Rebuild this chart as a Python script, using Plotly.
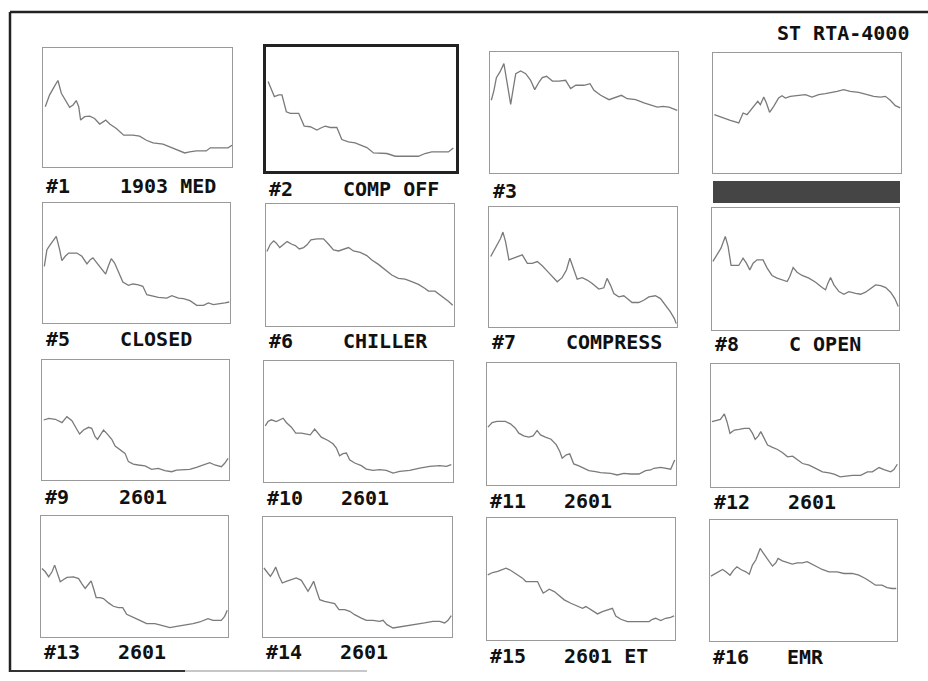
import plotly.graph_objects as go

# ---------------- data (band position in % of span, relative level 0-100) ----------------
title_text = "ST RTA-4000"
panel_ids = ["#1", "#2", "#3", "", "#5", "#6", "#7", "#8",
             "#9", "#10", "#11", "#12", "#13", "#14", "#15", "#16"]
panel_names = ["1903 MED", "COMP OFF", "", "", "CLOSED", "CHILLER", "COMPRESS", "C OPEN",
               "2601", "2601", "2601", "2601", "2601", "2601", "2601 ET", "EMR"]

band_1 = [1.2, 3.5, 6.2, 7.9, 9.7, 12.3, 14.1, 15.9, 17.6, 18.9, 19.9, 22.0, 24.7, 27.3, 30.0, 33.2, 35.3,
          38.8, 42.7, 47.6, 51.1, 54.7, 58.2, 63.5, 68.8, 72.3, 75.0, 77.6, 81.1, 86.4, 88.5, 93.5, 97.9, 100]
level_1 = [50.7, 60.6, 68.2, 72.7, 62.0, 54.9, 50.1, 52.1, 55.8, 50.7, 39.4, 42.3, 42.8, 40.8, 36.1, 39.4, 36.1,
           32.4, 26.8, 26.8, 25.9, 22.5, 20.3, 19.2, 15.5, 13.5, 11.8, 12.7, 13.5, 13.5, 16.1, 16.1, 16.1, 18.3]

band_2 = [1.1, 2.6, 4.4, 6.7, 8.4, 10.7, 12.8, 17.2, 20.1, 23.3, 26.8, 29.4, 31.2, 33.8, 37.3, 39.9, 43.4,
          46.9, 50.4, 53.1, 56.6, 60.1, 63.6, 68.0, 70.6, 75.8, 80.2, 83.7, 87.2, 91.6, 96.0, 98.6]
level_2 = [72.2, 65.9, 60.0, 61.4, 61.4, 47.8, 46.5, 46.5, 36.2, 35.7, 33.0, 35.1, 36.2, 35.1, 35.1, 25.4, 23.5,
           22.7, 20.8, 18.9, 14.6, 14.6, 14.1, 11.9, 11.9, 11.4, 11.9, 14.1, 15.4, 15.4, 15.4, 18.6]

band_3 = [0.7, 2.1, 3.4, 5.3, 7.4, 8.7, 9.6, 11.0, 12.2, 13.7, 16.3, 19.0, 21.6, 23.8, 26.1, 27.8, 30.1,
          33.2, 36.7, 40.2, 42.9, 45.6, 50.0, 53.2, 55.3, 58.9, 63.3, 66.8, 69.9, 73.0, 77.5, 81.9, 85.5,
          89.0, 92.0, 95.2, 99.6]
level_3 = [60.1, 68.3, 78.8, 83.5, 90.4, 79.3, 68.3, 56.7, 68.3, 82.1, 84.3, 82.1, 76.6, 68.9, 75.2, 78.8, 79.9,
           76.0, 76.0, 76.6, 69.7, 72.5, 72.5, 73.8, 68.3, 64.2, 60.6, 62.3, 64.2, 61.4, 60.6, 57.9, 55.9,
           54.5, 55.1, 54.5, 51.8]

band_4 = [0.7, 3.9, 9.2, 13.7, 16.0, 18.1, 20.2, 22.2, 23.8, 25.2, 27.0, 28.4, 30.1, 32.3, 34.9, 36.7, 38.5,
          41.1, 44.7, 49.1, 52.7, 56.2, 59.8, 62.4, 66.0, 69.5, 73.0, 77.5, 81.9, 85.5, 89.0, 91.7, 94.3,
          97.0, 99.6]
level_4 = [48.6, 46.7, 43.9, 41.7, 50.0, 48.6, 52.8, 56.9, 59.7, 56.9, 63.3, 58.3, 50.6, 55.6, 62.5, 64.4, 62.5,
           63.9, 64.4, 65.3, 63.3, 65.3, 66.1, 67.2, 68.1, 69.4, 68.1, 67.2, 65.3, 63.9, 63.3, 63.9, 60.6,
           56.1, 54.2]

band_5 = [0.7, 2.1, 3.9, 5.7, 7.1, 8.9, 10.1, 11.9, 13.7, 18.1, 20.8, 23.5, 25.3, 26.7, 28.8, 31.1, 33.5,
          35.1, 36.5, 38.3, 40.4, 42.7, 45.7, 48.0, 50.5, 53.4, 55.5, 58.2, 61.7, 66.2, 68.9, 72.4, 75.1,
          78.6, 82.2, 85.8, 88.4, 91.1, 94.7, 97.3, 99.6]
level_5 = [47.2, 61.1, 65.3, 69.4, 72.2, 61.1, 51.9, 55.6, 58.3, 58.3, 55.6, 49.2, 52.8, 54.2, 50.0, 45.3, 40.8,
           48.1, 53.6, 50.0, 42.5, 34.2, 31.4, 32.5, 31.9, 30.6, 23.6, 22.8, 21.4, 20.8, 22.8, 20.8, 20.3,
           18.6, 14.7, 14.7, 16.7, 15.3, 15.8, 16.7, 17.5]

band_6 = [0.5, 2.3, 4.1, 5.5, 7.3, 9.4, 11.2, 13.8, 15.6, 17.7, 20.0, 21.8, 23.9, 27.1, 30.6, 33.3, 35.9,
          38.6, 41.2, 43.9, 46.5, 50.1, 53.6, 56.3, 59.8, 63.4, 66.9, 70.4, 74.0, 77.5, 81.1, 84.6, 86.4,
          89.9, 93.5, 97.0, 99.3]
level_6 = [61.0, 67.0, 69.8, 67.9, 64.3, 67.0, 69.2, 67.0, 65.9, 63.2, 64.3, 66.5, 70.6, 71.4, 71.4, 67.0, 62.4,
           61.5, 63.2, 64.3, 61.5, 60.4, 57.7, 54.1, 50.5, 45.9, 41.8, 39.0, 38.5, 36.3, 34.1, 30.8, 28.6,
           28.6, 24.7, 20.3, 17.0]

band_7 = [0.9, 2.7, 4.4, 6.2, 7.4, 8.8, 10.6, 13.3, 15.0, 17.7, 20.4, 23.0, 25.7, 28.3, 31.0, 33.6, 36.3,
          38.9, 41.2, 43.0, 44.8, 46.9, 49.6, 52.2, 54.9, 58.4, 61.1, 62.8, 64.6, 66.4, 69.0, 71.7, 73.5,
          76.1, 79.6, 82.3, 85.0, 88.5, 91.2, 93.8, 96.5, 98.6, 99.6]
level_7 = [58.7, 64.2, 69.0, 74.0, 79.1, 71.2, 55.9, 57.3, 58.7, 60.1, 53.1, 53.1, 54.5, 51.1, 46.6, 41.9, 37.7,
           41.1, 47.5, 57.3, 48.9, 39.9, 41.1, 39.1, 36.3, 31.6, 32.7, 40.5, 34.9, 27.9, 25.1, 26.0, 23.7,
           20.4, 20.4, 22.3, 25.1, 26.0, 23.7, 18.2, 12.6, 7.0, 2.8]

band_8 = [0.5, 2.7, 4.8, 7.1, 8.6, 10.2, 12.5, 14.3, 16.6, 18.4, 20.2, 22.0, 24.1, 27.3, 29.5, 32.1, 34.8,
          37.5, 40.2, 41.6, 43.4, 45.5, 48.2, 51.8, 55.4, 58.9, 60.7, 62.0, 63.4, 65.2, 67.9, 70.5, 73.2,
          76.8, 79.5, 82.1, 84.8, 87.5, 90.2, 92.9, 95.5, 97.7, 99.6]
level_8 = [56.2, 61.6, 67.1, 76.7, 68.5, 52.9, 52.9, 52.9, 58.9, 54.8, 49.3, 54.8, 57.5, 57.5, 50.7, 44.7, 42.5,
           41.1, 39.7, 43.8, 51.2, 47.4, 44.7, 42.5, 39.2, 34.8, 32.9, 38.4, 43.0, 37.0, 31.5, 29.3, 31.5,
           30.1, 29.3, 31.0, 34.2, 37.0, 36.4, 34.8, 31.0, 26.0, 19.2]

band_9 = [0.9, 3.6, 7.1, 10.7, 13.3, 16.0, 18.3, 20.1, 22.2, 24.9, 26.6, 28.4, 29.7, 31.1, 32.9, 34.6, 37.3,
          39.1, 41.7, 44.4, 46.2, 48.8, 51.5, 55.1, 58.6, 62.2, 65.7, 69.3, 71.9, 75.5, 79.0, 82.6, 86.1,
          89.7, 92.4, 95.9, 97.7, 99.5]
level_9 = [50.0, 51.4, 50.6, 47.8, 52.8, 49.4, 43.1, 38.3, 41.7, 43.9, 43.1, 36.1, 33.9, 37.5, 41.7, 38.9, 33.9,
           28.3, 25.6, 22.2, 15.3, 13.3, 12.5, 11.7, 8.9, 9.7, 7.8, 6.9, 8.3, 8.9, 8.9, 10.6, 12.5,
           14.4, 12.5, 11.1, 13.9, 18.1]

band_10 = [0.7, 2.1, 3.9, 6.5, 10.1, 11.8, 14.5, 16.8, 19.8, 22.4, 24.5, 26.8, 28.6, 30.3, 33.9, 36.5, 38.3,
           40.0, 41.8, 43.6, 45.3, 48.0, 51.5, 54.1, 57.7, 61.2, 64.7, 68.3, 71.8, 77.1, 82.4, 87.7, 92.9,
           96.5, 99.1]
level_10 = [46.4, 50.0, 51.4, 50.0, 52.7, 49.2, 45.3, 40.4, 40.4, 39.8, 39.0, 43.7, 40.4, 37.1, 34.3, 31.6, 28.0,
            21.7, 23.4, 23.9, 18.4, 15.7, 13.5, 10.7, 9.6, 10.2, 9.6, 7.4, 8.8, 9.6, 11.5, 12.9, 13.5,
            12.9, 14.3]

band_11 = [0.5, 2.7, 5.3, 9.7, 12.4, 15.0, 16.8, 19.4, 22.1, 24.4, 26.5, 28.3, 30.9, 33.9, 36.7, 38.5, 39.8,
           42.0, 43.8, 45.9, 48.6, 51.2, 53.9, 57.4, 60.1, 65.4, 68.9, 72.4, 76.0, 80.4, 83.9, 86.6, 88.3,
           91.9, 95.4, 97.2, 99.3]
level_11 = [47.4, 51.2, 52.1, 52.1, 50.1, 46.6, 42.5, 40.3, 39.2, 40.3, 44.7, 41.1, 39.2, 37.5, 32.9, 27.4, 21.9,
            24.7, 25.5, 17.3, 15.6, 13.7, 11.8, 11.0, 10.1, 9.6, 8.2, 9.6, 9.0, 9.0, 11.8, 12.3, 13.7,
            14.5, 13.7, 12.9, 20.5]

band_12 = [0.5, 2.7, 5.0, 7.1, 8.5, 10.1, 12.4, 15.0, 17.7, 20.4, 22.1, 23.5, 25.1, 26.5, 28.3, 30.1, 32.7,
           35.4, 38.1, 40.7, 43.4, 46.0, 48.7, 52.2, 55.8, 59.3, 62.8, 65.5, 68.7, 71.7, 75.2, 79.6, 83.2,
           85.8, 89.4, 92.0, 95.6, 97.3, 99.1]
level_12 = [53.1, 54.0, 55.0, 59.4, 53.1, 43.6, 46.3, 46.9, 47.7, 47.7, 43.6, 38.7, 41.4, 45.0, 39.5, 34.1, 32.2,
            30.5, 27.8, 24.5, 25.1, 21.8, 19.1, 17.7, 15.0, 12.3, 11.4, 10.4, 8.2, 8.7, 9.5, 9.5, 12.3,
            12.3, 15.8, 14.2, 12.3, 14.2, 18.5]

band_13 = [0.5, 2.3, 4.1, 5.9, 7.3, 8.9, 10.3, 12.1, 13.9, 17.4, 20.1, 21.8, 23.6, 25.4, 26.8, 28.1, 29.5,
           31.6, 33.4, 36.1, 38.7, 41.4, 43.7, 45.8, 48.5, 52.0, 56.5, 60.9, 64.5, 68.9, 72.5, 76.9, 81.3,
           84.9, 89.3, 92.0, 96.4, 98.2, 99.6]
level_13 = [56.6, 53.9, 49.7, 53.9, 59.4, 51.1, 45.6, 47.5, 49.2, 49.7, 48.3, 44.2, 40.1, 43.6, 46.4, 40.1, 32.6,
            32.6, 31.8, 28.2, 25.4, 24.3, 24.3, 18.8, 16.6, 14.4, 11.0, 11.0, 9.7, 7.7, 8.8, 9.7, 11.0,
            12.4, 15.2, 13.8, 13.8, 17.1, 22.1]

band_14 = [0.5, 2.3, 3.9, 5.6, 6.7, 8.5, 10.2, 12.3, 15.0, 17.6, 20.3, 22.0, 23.8, 25.6, 26.8, 28.2, 30.0,
           32.6, 35.3, 37.9, 40.2, 43.2, 45.9, 48.5, 52.0, 54.7, 58.2, 61.7, 63.5, 65.6, 68.8, 72.3, 76.7,
           81.1, 85.5, 89.9, 93.5, 96.1, 97.9, 99.6]
level_14 = [57.5, 53.9, 50.6, 54.7, 58.3, 50.6, 45.0, 46.4, 47.8, 49.2, 47.2, 42.8, 38.1, 42.8, 46.4, 39.4, 31.1,
            29.7, 28.9, 27.8, 22.8, 22.8, 21.4, 18.6, 15.8, 13.9, 13.9, 13.1, 13.9, 10.3, 7.5, 8.3, 9.4,
            10.3, 11.7, 13.1, 13.1, 11.7, 13.9, 17.8]

band_15 = [0.4, 3.0, 5.7, 10.1, 12.7, 16.3, 18.9, 20.7, 23.4, 26.9, 28.3, 29.9, 31.3, 33.1, 35.8, 38.4, 41.1,
           44.6, 48.1, 50.8, 52.6, 54.9, 57.0, 58.8, 61.4, 64.1, 66.7, 68.5, 71.2, 74.7, 78.2, 81.8, 86.2,
           88.0, 89.7, 92.4, 95.0, 97.7, 99.5]
level_15 = [53.4, 55.3, 56.2, 58.9, 57.0, 53.4, 50.7, 47.9, 47.9, 47.9, 43.3, 38.4, 39.7, 41.6, 39.7, 36.2, 32.9,
            30.1, 27.9, 26.0, 27.4, 25.2, 22.5, 21.4, 23.3, 24.7, 26.0, 19.7, 17.0, 15.1, 15.1, 15.1, 15.1,
            17.0, 17.8, 15.9, 17.8, 18.6, 19.7]

band_16 = [0.5, 3.2, 6.7, 8.5, 10.7, 12.6, 14.4, 16.5, 19.2, 21.0, 22.7, 24.5, 26.8, 28.6, 30.7, 33.4, 35.2,
           36.4, 38.7, 41.4, 44.0, 46.7, 49.4, 52.0, 54.7, 57.4, 60.0, 63.6, 68.0, 71.6, 76.0, 79.6, 83.1,
           85.8, 88.5, 92.0, 94.7, 97.3, 99.6]
level_16 = [53.6, 55.8, 59.1, 57.2, 54.4, 58.6, 61.3, 59.1, 57.2, 55.2, 62.7, 66.9, 76.5, 72.4, 67.4, 61.9, 64.6,
            68.2, 66.3, 64.6, 63.5, 64.6, 64.6, 65.5, 63.5, 61.3, 59.1, 57.2, 57.2, 55.8, 55.8, 54.4, 51.7,
            48.9, 46.1, 46.1, 44.2, 43.4, 43.4]

bands = [band_1, band_2, band_3, band_4, band_5, band_6, band_7, band_8,
         band_9, band_10, band_11, band_12, band_13, band_14, band_15, band_16]
levels = [level_1, level_2, level_3, level_4, level_5, level_6, level_7, level_8,
          level_9, level_10, level_11, level_12, level_13, level_14, level_15, level_16]

# ---------------- layout geometry (pixel boxes: left, top, right, bottom) ----------------
W, H = 928, 681
boxes = [
    (43, 48, 232, 167), (266, 47, 456, 171), (490, 52, 678, 173), (713, 53, 901, 173),
    (43, 203, 230, 323), (266, 204, 454, 326), (489, 207, 677, 327), (712, 208, 899, 330),
    (42, 360, 229, 480), (264, 361, 453, 482), (487, 363, 676, 485), (711, 364, 899, 487),
    (41, 516, 228, 637), (263, 517, 452, 637), (487, 518, 675, 640), (710, 520, 897, 641),
]
label_offsets = [19, 18, 18, 18, 16, 15, 15, 14, 17, 16, 16, 15, 15, 15, 16, 16]

FONT = "DejaVu Sans Mono"
LINE_COLOR = "#7a7a7a"

fig = go.Figure()
layout_axes = {}
annotations = []
for i in range(16):
    n = i + 1
    xa = "xaxis" if n == 1 else f"xaxis{n}"
    ya = "yaxis" if n == 1 else f"yaxis{n}"
    xr = "x" if n == 1 else f"x{n}"
    yr = "y" if n == 1 else f"y{n}"
    l, t, r, b = boxes[i]
    selected = (n == 2)
    frame_col = "#222222" if selected else "#9a9a9a"
    frame_w = 2.5 if selected else 1
    layout_axes[xa] = dict(domain=[l / W, r / W], range=[0, 100], showgrid=False, zeroline=False,
                           showticklabels=False, ticks="", showline=True, mirror=True,
                           linecolor=frame_col, linewidth=frame_w, anchor=yr, fixedrange=True)
    layout_axes[ya] = dict(domain=[1 - b / H, 1 - t / H], range=[0, 100], showgrid=False, zeroline=False,
                           showticklabels=False, ticks="", showline=True, mirror=True,
                           linecolor=frame_col, linewidth=frame_w, anchor=xr, fixedrange=True)
    fig.add_trace(go.Scatter(x=bands[i], y=levels[i], mode="lines", xaxis=xr, yaxis=yr,
                             line=dict(color=LINE_COLOR, width=1.3), showlegend=False,
                             hoverinfo="skip"))
    ly = b + label_offsets[i]
    if panel_ids[i]:
        annotations.append(dict(text=f"<b>{panel_ids[i]}</b>", x=(l + 1) / W, y=1 - ly / H,
                                xref="paper", yref="paper", xanchor="left", yanchor="middle",
                                showarrow=False, font=dict(family=FONT, size=20, color="#111111")))
    if panel_names[i]:
        annotations.append(dict(text=f"<b>{panel_names[i]}</b>", x=(l + 75) / W, y=1 - ly / H,
                                xref="paper", yref="paper", xanchor="left", yanchor="middle",
                                showarrow=False, font=dict(family=FONT, size=20, color="#111111")))

annotations.append(dict(text=f"<b>{title_text}</b>", x=911 / W, y=1 - 33 / H, xref="paper", yref="paper",
                        xanchor="right", yanchor="middle", showarrow=False,
                        font=dict(family=FONT, size=20, color="#111111")))

shapes = [
    # outer frame pieces
    dict(type="line", xref="paper", yref="paper", x0=10 / W, x1=1, y0=1 - 12 / H, y1=1 - 12 / H,
         line=dict(color="#222222", width=2.5)),
    dict(type="line", xref="paper", yref="paper", x0=10 / W, x1=10 / W, y0=1 - 12 / H, y1=1 - 672 / H,
         line=dict(color="#222222", width=2.5)),
    dict(type="line", xref="paper", yref="paper", x0=10 / W, x1=185 / W, y0=1 - 671 / H, y1=1 - 671 / H,
         line=dict(color="#333333", width=2)),
    dict(type="line", xref="paper", yref="paper", x0=185 / W, x1=367 / W, y0=1 - 671 / H, y1=1 - 671 / H,
         line=dict(color="#b5b5b5", width=1.5)),
    # dark highlight bar under panel 4
    dict(type="rect", xref="paper", yref="paper", x0=713 / W, x1=900 / W, y0=1 - 203 / H, y1=1 - 181 / H,
         fillcolor="#454545", line=dict(width=0)),
]

fig.update_layout(width=W, height=H, margin=dict(l=0, r=0, t=0, b=0),
                  paper_bgcolor="white", plot_bgcolor="white",
                  annotations=annotations, shapes=shapes, **layout_axes)

fig.write_html("out.html", config={"displayModeBar": False},
               post_script="document.body.style.margin='0';document.body.style.overflow='hidden';")
